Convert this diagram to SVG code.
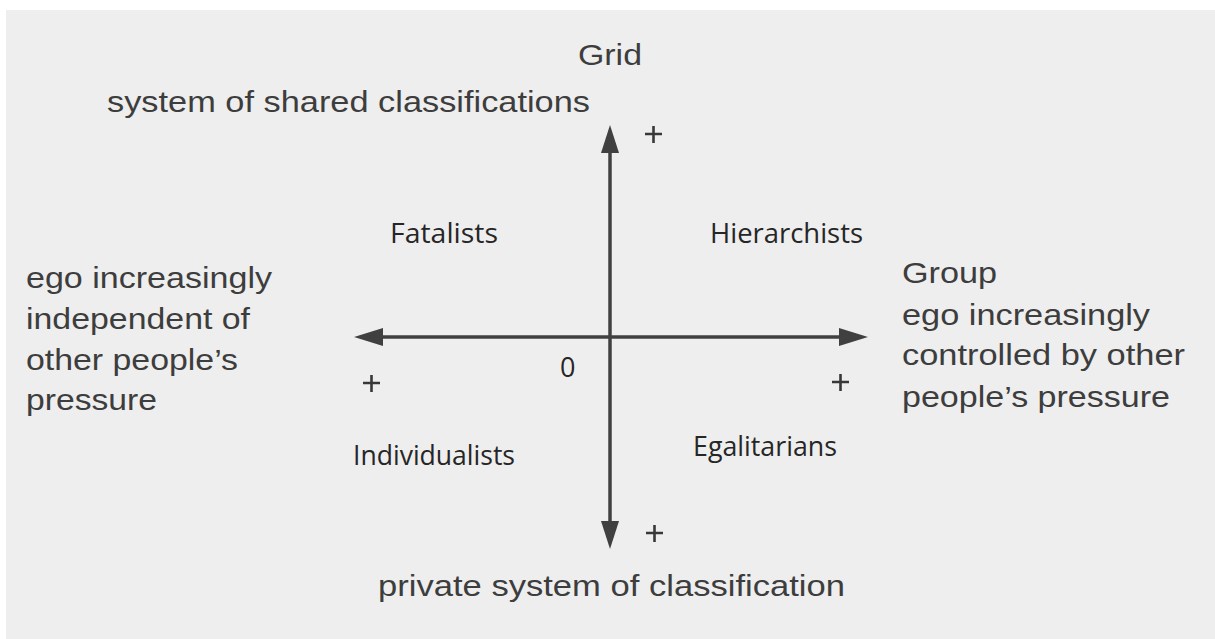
<svg xmlns="http://www.w3.org/2000/svg" width="1215" height="639" viewBox="0 0 1215 639">
<style>
.big{font-family:"Liberation Sans",Arial,sans-serif;font-size:30px;fill:#3d3d3d}
.quad{font-family:"Open Sans","Noto Sans",sans-serif;font-size:27px;fill:#262626}
.axis{stroke:#404040;stroke-width:3.5;fill:none}
.head{fill:#404040}
.plus{stroke:#383838;stroke-width:2.6;fill:none}
</style>
<rect x="0" y="0" width="1215" height="639" fill="#ffffff"/>
<rect x="6" y="10" width="1209" height="629" fill="#eeeeee"/>
<g id="connectors">
<line class="axis" x1="610" y1="148" x2="610" y2="526"/>
<polygon class="head" points="610,125 601,153 619,153"/>
<polygon class="head" points="610,549 601,521 619,521"/>
<line class="axis" x1="378" y1="337" x2="845" y2="337"/>
<polygon class="head" points="354,337 383,328 383,346"/>
<polygon class="head" points="868,337 839,328 839,346"/>
</g>
<g id="plus-marks">
<path class="plus" d="M645,134h17M653.5,126v17"/>
<path class="plus" d="M646,533h17M654.5,525v17"/>
<path class="plus" d="M363,383h17M371.5,375v17"/>
<path class="plus" d="M832,382h17M840.5,374v17"/>
</g>
<g id="grid">
<text class="big" x="578" y="65" textLength="64" lengthAdjust="spacingAndGlyphs">Grid</text>
<text class="big" x="107" y="112" textLength="483" lengthAdjust="spacingAndGlyphs">system of shared classifications</text>
</g>
<g id="private">
<text class="big" x="378" y="596" textLength="467" lengthAdjust="spacingAndGlyphs">private system of classification</text>
</g>
<g id="ego-independent">
<text class="big" x="26" y="288" textLength="246" lengthAdjust="spacingAndGlyphs">ego increasingly</text>
<text class="big" x="26" y="329" textLength="224" lengthAdjust="spacingAndGlyphs">independent of</text>
<text class="big" x="26" y="370" textLength="212" lengthAdjust="spacingAndGlyphs">other people’s</text>
<text class="big" x="26" y="410" textLength="131" lengthAdjust="spacingAndGlyphs">pressure</text>
</g>
<g id="group">
<text class="big" x="902" y="283" textLength="95" lengthAdjust="spacingAndGlyphs">Group</text>
<text class="big" x="902" y="325" textLength="248" lengthAdjust="spacingAndGlyphs">ego increasingly</text>
<text class="big" x="902" y="365" textLength="283" lengthAdjust="spacingAndGlyphs">controlled by other</text>
<text class="big" x="902" y="407" textLength="268" lengthAdjust="spacingAndGlyphs">people’s pressure</text>
</g>
<g id="fatalists"><text class="quad" x="390" y="243" textLength="108" lengthAdjust="spacingAndGlyphs">Fatalists</text></g>
<g id="hierarchists"><text class="quad" x="710" y="243" textLength="153" lengthAdjust="spacingAndGlyphs">Hierarchists</text></g>
<g id="individualists"><text class="quad" x="353" y="465" textLength="162" lengthAdjust="spacingAndGlyphs">Individualists</text></g>
<g id="egalitarians"><text class="quad" x="693" y="456" textLength="144" lengthAdjust="spacingAndGlyphs">Egalitarians</text></g>
<g id="origin"><text class="quad" x="560" y="377">0</text></g>
</svg>
